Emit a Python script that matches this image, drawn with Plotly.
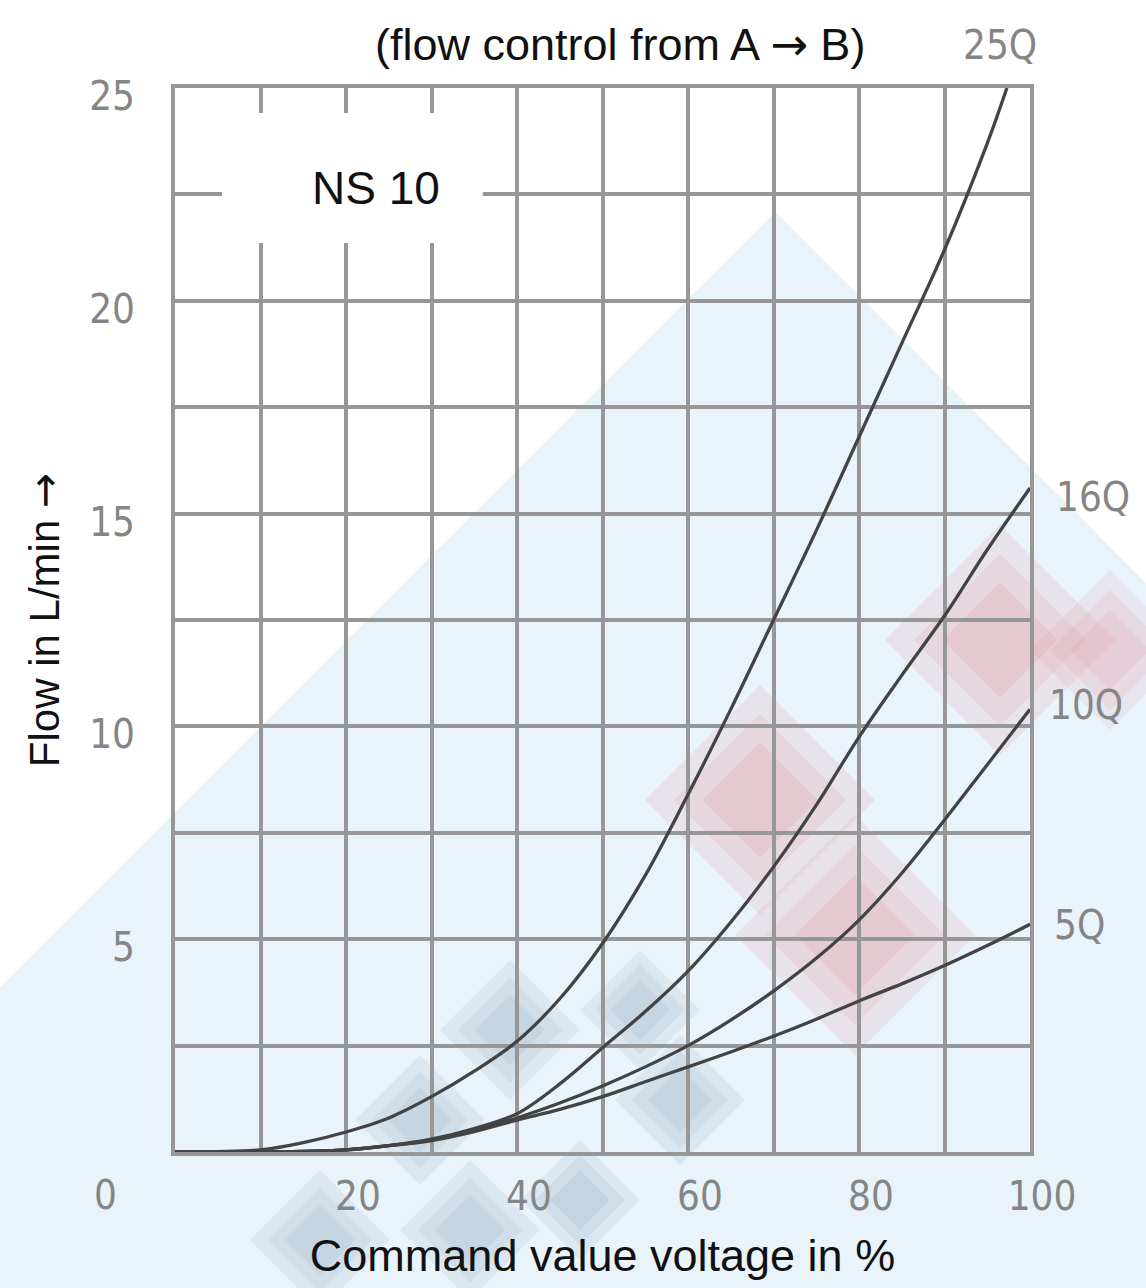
import plotly.graph_objects as go

# ---------------- data ----------------
x_25q = [0, 10, 15, 20, 25, 30, 35, 40, 45, 50, 55, 60, 65, 70, 75, 80, 85, 90, 95, 97.3]
y_25q = [0, 0.05, 0.22, 0.47, 0.8, 1.3, 1.9, 2.6, 3.6, 4.9, 6.5, 8.4, 10.4, 12.5, 14.6, 16.8, 19.0, 21.2, 23.7, 25.0]

x_q = [0, 10, 20, 25, 30, 35, 40, 45, 50, 55, 60, 65, 70, 75, 80, 85, 90, 95, 100]
y_16q = [0, 0, 0.05, 0.15, 0.3, 0.55, 0.9, 1.6, 2.45, 3.3, 4.25, 5.4, 6.7, 8.15, 9.75, 11.2, 12.6, 14.15, 15.6]
y_10q = [0, 0, 0.05, 0.15, 0.28, 0.5, 0.8, 1.15, 1.55, 2.0, 2.5, 3.1, 3.78, 4.55, 5.45, 6.55, 7.8, 9.1, 10.4]
y_5q = [0, 0, 0.05, 0.15, 0.27, 0.48, 0.75, 1.0, 1.3, 1.65, 2.0, 2.35, 2.72, 3.12, 3.55, 3.95, 4.38, 4.85, 5.35]

series = [
    ("25Q", x_25q, y_25q),
    ("16Q", x_q, y_16q),
    ("10Q", x_q, y_10q),
    ("5Q", x_q, y_5q),
]

# label anchor positions for curve names (data units, may lie outside the axis range)
label_pos = {"25Q": (96.5, 26.0), "16Q": (107.4, 15.4), "10Q": (106.5, 10.5), "5Q": (105.8, 5.33)}

x_ticks = [0, 10, 20, 30, 40, 50, 60, 70, 80, 90, 100]
x_tick_text = ["", "", "20", "", "40", "", "60", "", "80", "", "100"]
y_ticks = [0, 2.5, 5, 7.5, 10, 12.5, 15, 17.5, 20, 22.5, 25]
y_tick_text = ["", "", "5", "", "10", "", "15", "", "20", "", "25"]
X_MAX, Y_MAX = 100, 25

# ---------------- style ----------------
W, H = 1146, 1288
ML, MR, MT, MB = 175, 116, 88, 136
PW, PH = W - ML - MR, H - MT - MB
GRID = "#979797"
CURVE = "#434343"
NARROW = "DejaVu Sans Condensed, Liberation Sans Narrow, DejaVu Sans, sans-serif"
SANS = "Liberation Sans, Arial, sans-serif"
TICKFONT = dict(family=NARROW, size=40, color="#858585")
ARROW = '<span style="font-family:DejaVu Sans">\u2192</span>'


def narrow(t):
    return f'<span style="font-stretch:condensed">{t}</span>' if t else t


def px2paper(px, py):
    return (px - ML) / PW, (MT + PH - py) / PH


def path_from_px(points):
    pts = [px2paper(a, b) for a, b in points]
    return "M " + " L ".join(f"{a:.4f},{b:.4f}" for a, b in pts) + " Z"


def diamond(cx, cy, r):
    return path_from_px([(cx, cy - r), (cx + r, cy), (cx, cy + r), (cx - r, cy)])


fig = go.Figure()

for name, xs, ys in series:
    fig.add_trace(go.Scatter(x=xs, y=ys, mode="lines", name=name,
                             line=dict(color=CURVE, width=3.3, shape="spline", smoothing=1.0),
                             showlegend=False, cliponaxis=True))

shapes = []
# faint background watermark triangle
shapes.append(dict(type="path", xref="paper", yref="paper", layer="below",
                   path=path_from_px([(0, 987), (775, 212), (1146, 583), (1146, 1288), (0, 1288)]),
                   fillcolor="rgb(233,243,250)", line=dict(width=0)))
# soft pinkish / bluish blotches (image artefacts)
PINK = "rgba(225,135,145,{a})"
BLUE = "rgba(110,140,165,{a})"
for cx, cy, r, col, a in [
    (760, 800, 115, PINK, 0.14),
    (855, 935, 120, PINK, 0.14),
    (1000, 640, 115, PINK, 0.14),
    (1110, 650, 80, PINK, 0.12),
    (510, 1030, 70, BLUE, 0.10),
    (640, 1010, 60, BLUE, 0.10),
    (420, 1120, 65, BLUE, 0.10),
    (680, 1100, 65, BLUE, 0.10),
    (320, 1240, 70, BLUE, 0.10),
    (470, 1230, 70, BLUE, 0.10),
    (580, 1200, 60, BLUE, 0.10),
]:
    for k in (1.0, 0.75, 0.5):
        shapes.append(dict(type="path", xref="paper", yref="paper", layer="below",
                           path=diamond(cx, cy, r * k), fillcolor=col.format(a=a),
                           line=dict(width=0)))
# white box behind "NS 10" label (hides grid)
shapes.append(dict(type="rect", xref="x", yref="y", layer="between",
                   x0=5.5, x1=36.0, y0=21.36, y1=24.41,
                   fillcolor="white", line=dict(width=0)))

annotations = [
    dict(text=f"(flow control from A {ARROW} B)", xref="paper", yref="paper",
         x=(620 - ML) / PW, y=1 + (MT - 45) / PH, xanchor="center", yanchor="middle",
         showarrow=False, font=dict(family=SANS, size=45, color="#111111")),
    dict(text="NS 10", xref="x", yref="y", x=23.5, y=22.65, xanchor="center", yanchor="middle",
         showarrow=False, font=dict(family=SANS, size=46, color="#111111")),
    dict(text=narrow("0"), xref="paper", yref="paper", x=(105 - ML) / PW, y=-(1195 - 1152) / PH,
         xanchor="center", yanchor="middle",
         showarrow=False, font=TICKFONT),
]
for name, _, _ in series:
    lx, ly = label_pos[name]
    annotations.append(dict(text=narrow(name), xref="paper", yref="paper", x=lx / X_MAX, y=ly / Y_MAX,
                            xanchor="center", yanchor="middle", showarrow=False,
                            font=TICKFONT))

fig.update_layout(
    width=W, height=H,
    margin=dict(l=ML, r=MR, t=MT, b=MB, pad=0),
    paper_bgcolor="white",
    plot_bgcolor="rgba(0,0,0,0)",
    shapes=shapes,
    annotations=annotations,
    xaxis=dict(range=[0, X_MAX], tickvals=x_ticks, ticktext=[narrow(t) for t in x_tick_text],
               showgrid=True, gridcolor=GRID, gridwidth=3.5, zeroline=False,
               showline=True, linecolor=GRID, linewidth=4, mirror=True,
               ticks="", ticklabelstandoff=6, ticklabelshift=12,
               tickfont=TICKFONT,
               title=dict(text="Command value voltage in %", standoff=22,
                          font=dict(family=SANS, size=45, color="#111111"))),
    yaxis=dict(range=[0, Y_MAX], tickvals=y_ticks, ticktext=[narrow(t) for t in y_tick_text],
               showgrid=True, gridcolor=GRID, gridwidth=3.5, zeroline=False,
               showline=True, linecolor=GRID, linewidth=4, mirror=True,
               ticks="", ticklabelstandoff=28, ticklabelshift=8,
               tickfont=TICKFONT,
               title=dict(text=f"Flow in L/min {ARROW}", standoff=18,
                          font=dict(family=SANS, size=42, color="#111111"))),
)

fig.write_html("out.html")
